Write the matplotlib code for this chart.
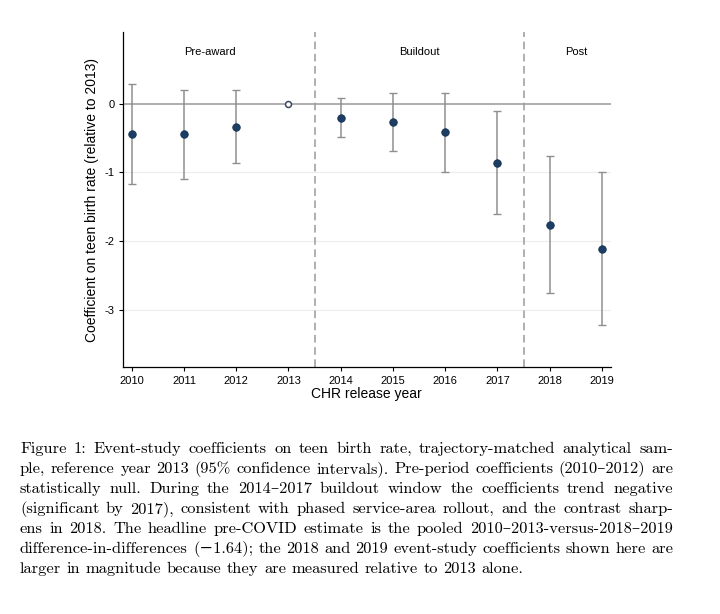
import matplotlib
matplotlib.use('Agg')
from matplotlib import pyplot as plt

plt.rcParams['font.family'] = ['Liberation Sans', 'DejaVu Sans']

# data
years = [2010, 2011, 2012, 2013, 2014, 2015, 2016, 2017, 2018, 2019]
coef = [-0.445, -0.45, -0.334, 0.0, -0.208, -0.266, -0.416, -0.862, -1.758, -2.107]
ci_hi = [0.286, 0.20, 0.19, 0.0, 0.073, 0.15, 0.16, -0.111, -0.760, -0.993]
ci_lo = [-1.167, -1.10, -0.867, 0.0, -0.489, -0.688, -0.988, -1.608, -2.755, -3.215]
ref_year = 2013
breaks = [2013.5, 2017.5]
periods = ['Pre-award', 'Buildout', 'Post']
period_x = [2011.5, 2015.5, 2018.5]
yticks = [0, -1, -2, -3]

caption = [
    "Figure 1: Event-study coefficients on teen birth rate, trajectory-matched analytical sam-",
    "ple, reference year 2013 (95% confidence intervals). Pre-period coefficients (2010\u20132012) are",
    "statistically null. During the 2014\u20132017 buildout window the coefficients trend negative",
    "(significant by 2017), consistent with phased service-area rollout, and the contrast sharp-",
    "ens in 2018. The headline pre-COVID estimate is the pooled 2010\u20132013-versus-2018\u20132019",
    "difference-in-differences (\u22121.64); the 2018 and 2019 event-study coefficients shown here are",
    "larger in magnitude because they are measured relative to 2013 alone.",
]

fig = plt.figure(figsize=(7.2, 6.14), dpi=100)
ax = fig.add_axes([0.171, 0.402, 0.677, 0.546])

navy = '#1c3d64'
gray = '#8f8f8f'

# grid + reference lines
for t in yticks[1:]:
    ax.axhline(t, color='#ececec', lw=0.8, zorder=0)
ax.axhline(0, color='#999999', lw=1.1, zorder=1)
for b in breaks:
    ax.axvline(b, color='#9a9a9a', lw=1.1, ls=(0, (5, 3)), zorder=1)

# CIs and points
est = [i for i, y in enumerate(years) if y != ref_year]
ex = [years[i] for i in est]
ey = [coef[i] for i in est]
err = [[coef[i] - ci_lo[i] for i in est], [ci_hi[i] - coef[i] for i in est]]
ax.errorbar(ex, ey, yerr=err, fmt='none', ecolor=gray, elinewidth=1.1,
            capsize=3.2, capthick=1.0, zorder=2)
ax.plot(ex, ey, 'o', color=navy, markersize=5.4, markeredgecolor='#17324f',
        markeredgewidth=0.6, zorder=3)
ri = years.index(ref_year)
ax.plot([years[ri]], [coef[ri]], 'o', markerfacecolor='white',
        markeredgecolor='#3a4a5c', markersize=4.3, markeredgewidth=1.1, zorder=3)

for lab, px in zip(periods, period_x):
    ax.text(px, 0.75, lab, ha='center', va='center', fontsize=8)

ax.set_xlim(2009.835, 2019.165)
ax.set_ylim(-3.83, 1.04)
ax.set_xticks(years)
ax.set_xticklabels([str(y) for y in years], fontsize=8)
ax.set_yticks(yticks)
ax.set_yticklabels(['0', '-1', '-2', '-3'], fontsize=8)
ax.tick_params(length=3, width=0.8, pad=3)
ax.spines['top'].set_visible(False)
ax.spines['right'].set_visible(False)
ax.spines['left'].set_linewidth(0.9)
ax.spines['bottom'].set_linewidth(0.9)
ax.set_xlabel('CHR release year', fontsize=10, labelpad=1)
ax.set_ylabel('Coefficient on teen birth rate (relative to 2013)', fontsize=10, labelpad=4)

# caption, justified by hand
cap_size = 11.8
cap_font = dict(family=['cmr10', 'DejaVu Serif'], fontsize=cap_size)
left_px, right_px = 20, 673
y0_px, dy_px = 449, 20
fig.canvas.draw()
renderer = fig.canvas.get_renderer()
W, H = fig.bbox.width, fig.bbox.height
for k, line in enumerate(caption):
    yf = 1 - (y0_px + k * dy_px) / H
    words = line.split(' ')
    objs = [fig.text(0, yf, w, va='center', ha='left', **cap_font) for w in words]
    widths = [o.get_window_extent(renderer).width for o in objs]
    if k < len(caption) - 1 and len(words) > 1:
        gap = (right_px - left_px - sum(widths)) / (len(words) - 1)
    else:
        gap = 0.333 * cap_size * 100 / 72
    x = left_px
    for o, w in zip(objs, widths):
        o.set_x(x / W)
        x += w + gap

fig.savefig('out.png', dpi=100)
